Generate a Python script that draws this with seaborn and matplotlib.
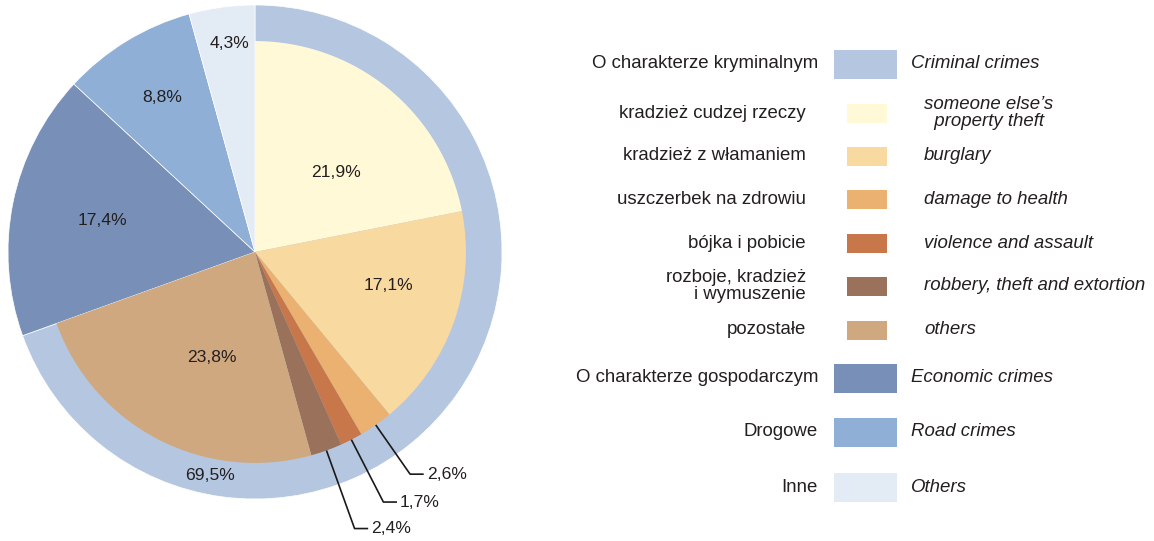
import numpy as np
import matplotlib
matplotlib.use("Agg")
import matplotlib.pyplot as plt
import seaborn as sns
from matplotlib import font_manager
from matplotlib.patches import Rectangle

# ---------------- data ----------------
main_pl = ["O charakterze kryminalnym", "O charakterze gospodarczym", "Drogowe", "Inne"]
main_en = ["Criminal crimes", "Economic crimes", "Road crimes", "Others"]
main_values = [69.5, 17.4, 8.8, 4.3]
main_colors = ["#B4C6E0", "#7890B8", "#8FAFD6", "#E3EBF4"]

sub_pl = ["kradzież cudzej rzeczy", "kradzież z włamaniem", "uszczerbek na zdrowiu",
          "bójka i pobicie", "rozboje, kradzież\ni wymuszenie", "pozostałe"]
sub_en = ["someone else’s\n  property theft", "burglary", "damage to health",
          "violence and assault", "robbery, theft and extortion", "others"]
sub_values = [21.9, 17.1, 2.6, 1.7, 2.4, 23.8]
sub_colors = ["#FFF9D7", "#F8D9A0", "#EBB170", "#C8774A", "#9A715A", "#CFA87F"]

def fmt(v):
    return f"{v:.1f}".replace(".", ",") + "%"

# ---------------- style ----------------
sns.set_theme(style="white")
names = {f.name for f in font_manager.fontManager.ttflist}
if "Liberation Sans Narrow" in names:
    fam = "Liberation Sans Narrow"; fs_leg = 16.0; fs_lab = 15.0
else:
    fam = "Liberation Sans"; fs_leg = 13.4; fs_lab = 12.6
plt.rcParams["font.family"] = [fam, "DejaVu Sans"]
TXT = "#231F20"

W, H = 1154, 541
fig = plt.figure(figsize=(W / 100, H / 100), dpi=100)
fig.patch.set_facecolor("white")

# ---------------- pie ----------------
R_PX = 247.0
CX, CY = 255.0, 541 - 252.0
AX_W = 560.0
ax = fig.add_axes([0, 0, AX_W / W, 1])
r_in = 0.854
wedge_kw = dict(edgecolor="white", linewidth=0.5)
ax.pie(main_values, colors=main_colors, radius=1.0, startangle=90,
       counterclock=False, wedgeprops=wedge_kw, normalize=True)
ax.pie(np.array(sub_values) / 100.0, colors=sub_colors, radius=r_in, startangle=90,
       counterclock=False, wedgeprops=dict(edgecolor="none", linewidth=0), normalize=False)
ax.set_aspect("auto")
ax.set_xlim(-CX / R_PX, (AX_W - CX) / R_PX)
ax.set_ylim(-CY / R_PX, (H - CY) / R_PX)
ax.axis("off")

def polar(r, ang_cw_deg):
    a = np.deg2rad(ang_cw_deg)
    return r * np.sin(a), r * np.cos(a)

# inner labels (radius, clockwise angle from top)
sub_label_pos = {0: (0.46, 45.4), 1: (0.555, 104.0), 5: (0.46, 202.3)}
for i, (r, ang) in sub_label_pos.items():
    x, y = polar(r, ang)
    ax.text(x, y, fmt(sub_values[i]), ha="center", va="center", fontsize=fs_lab, color=TXT)

main_label_pos = {0: (0.925, 191.4), 1: (0.63, 281.8), 2: (0.73, 329.0), 3: (0.85, 352.9)}
for i, (r, ang) in main_label_pos.items():
    x, y = polar(r, ang)
    ax.text(x, y, fmt(main_values[i]), ha="center", va="center", fontsize=fs_lab, color=TXT)

# leader lines for small slices
cum = np.cumsum([0] + sub_values)
lead_r = {2: 1.097, 3: 1.138, 4: 1.19}
for i, rr in lead_r.items():
    mid = (cum[i] + cum[i + 1]) / 2.0 / 100.0 * 360.0
    x0, y0 = polar(r_in, mid)
    x1, y1 = polar(rr, mid)
    x2 = x1 + 0.055
    ax.plot([x0, x1, x2], [y0, y1, y1], color="#1a1a1a", lw=1.2, solid_capstyle="butt")
    ax.text(x2 + 0.012, y1, fmt(sub_values[i]), ha="left", va="center",
            fontsize=fs_lab, color=TXT)

# ---------------- legend (pixel-coordinate overlay) ----------------
lax = fig.add_axes([0, 0, 1, 1], facecolor="none")
lax.set_xlim(0, W)
lax.set_ylim(H, 0)
lax.axis("off")

main_rows = [64, 378, 432, 487]
sub_rows = [113, 156, 199, 243, 286, 330]

for i in range(len(main_pl)):
    y = main_rows[i]
    lax.add_patch(Rectangle((834, y - 14.5), 63, 29, facecolor=main_colors[i], edgecolor="none"))
    lax.text(818, y, main_pl[i], ha="right", va="center", fontsize=fs_leg, color=TXT)
    lax.text(911, y, main_en[i], ha="left", va="center", fontsize=fs_leg, color=TXT,
             style="italic")

for i in range(len(sub_pl)):
    y = sub_rows[i]
    lax.add_patch(Rectangle((847, y - 9.5), 40, 19, facecolor=sub_colors[i], edgecolor="none"))
    lax.text(806, y, sub_pl[i], ha="right", va="center", fontsize=fs_leg, color=TXT,
             multialignment="right", linespacing=0.95)
    lax.text(924, y, sub_en[i], ha="left", va="center", fontsize=fs_leg, color=TXT,
             style="italic", linespacing=0.95)

fig.savefig("out.png", dpi=100, facecolor="white")
